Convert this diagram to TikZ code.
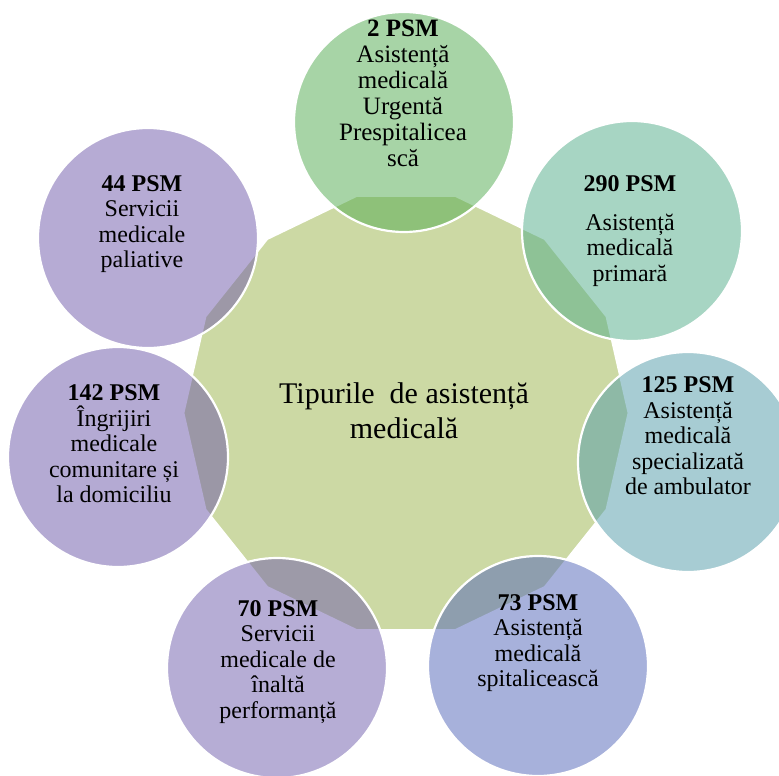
\documentclass[tikz,border=0pt]{standalone}
\usepackage{fontspec}
\setmainfont{Liberation Serif}
\definecolor{hubfill}{RGB}{204,217,164}
\definecolor{cA}{RGB}{81,171,79}
\definecolor{cB}{RGB}{81,173,137}
\definecolor{cC}{RGB}{81,155,169}
\definecolor{cD}{RGB}{81,101,185}
\definecolor{cE}{RGB}{111,93,173}
\definecolor{cF}{RGB}{107,87,169}
\definecolor{cG}{RGB}{111,89,171}
\begin{document}
\begin{tikzpicture}[x=1pt,y=-1pt,
  hubshape/.style={draw=white, line width=2pt, fill=hubfill},
  bubble/.style={circle, minimum size=220pt, inner sep=0pt, draw=white, line width=2.2pt, fill opacity=0.5, draw opacity=1},
  bubbletext/.style={align=center, font=\fontsize{24}{25.5}\selectfont, text=black, inner sep=0pt},
  hubtext/.style={align=center, font=\fontsize{30}{35}\selectfont, text=black, inner sep=0pt}]
\path[use as bounding box, fill=white] (0,0) rectangle (779,776);
% central 14-sided polygon (flat top and bottom)
\coordinate (hc) at (406,413);
\draw[hubshape] (hc) +(0:222.6) -- +(25.714:222.6) -- +(51.429:222.6) -- +(77.143:222.6) -- +(102.857:222.6) -- +(128.571:222.6) -- +(154.286:222.6) -- +(180:222.6) -- +(205.714:222.6) -- +(231.429:222.6) -- +(257.143:222.6) -- +(282.857:222.6) -- +(308.571:222.6) -- +(334.286:222.6) -- cycle;
\node[hubtext] (hub) at (404,411) {Tipurile~ de asistență\\medicală};
% outer circles
\node[bubble, fill=cA] (b1) at (404,122) {};
\node[bubble, fill=cB] (b2) at (632,231) {};
\node[bubble, fill=cC] (b3) at (688,462) {};
\node[bubble, fill=cD] (b4) at (538,666) {};
\node[bubble, fill=cE] (b5) at (277,668) {};
\node[bubble, fill=cF] (b6) at (118,457) {};
\node[bubble, fill=cG] (b7) at (148,238) {};
% texts
\node[bubbletext, font=\fontsize{25}{26}\selectfont] (t1) at (403,93) {\textbf{2 PSM}\\Asistență\\medicală\\Urgentă\\Prespitalicea\\scă};
\node[bubbletext] (t2) at (630,231) {\textbf{290 PSM}\\[13pt]Asistență\\medicală\\primară};
\node[bubbletext] (t3) at (688,436) {\textbf{125 PSM}\\Asistență\\medicală\\specializată\\de ambulator};
\node[bubbletext] (t4) at (538,643) {\textbf{73 PSM}\\Asistență\\medicală\\spitalicească};
\node[bubbletext] (t5) at (278,662) {\textbf{70 PSM}\\Servicii\\medicale de\\înaltă\\performanță};
\node[bubbletext] (t6) at (114,444) {\textbf{142 PSM}\\Îngrijiri\\medicale\\comunitare și\\la domiciliu};
\node[bubbletext] (t7) at (142,224) {\textbf{44 PSM}\\Servicii\\medicale\\paliative};
\end{tikzpicture}
\end{document}
